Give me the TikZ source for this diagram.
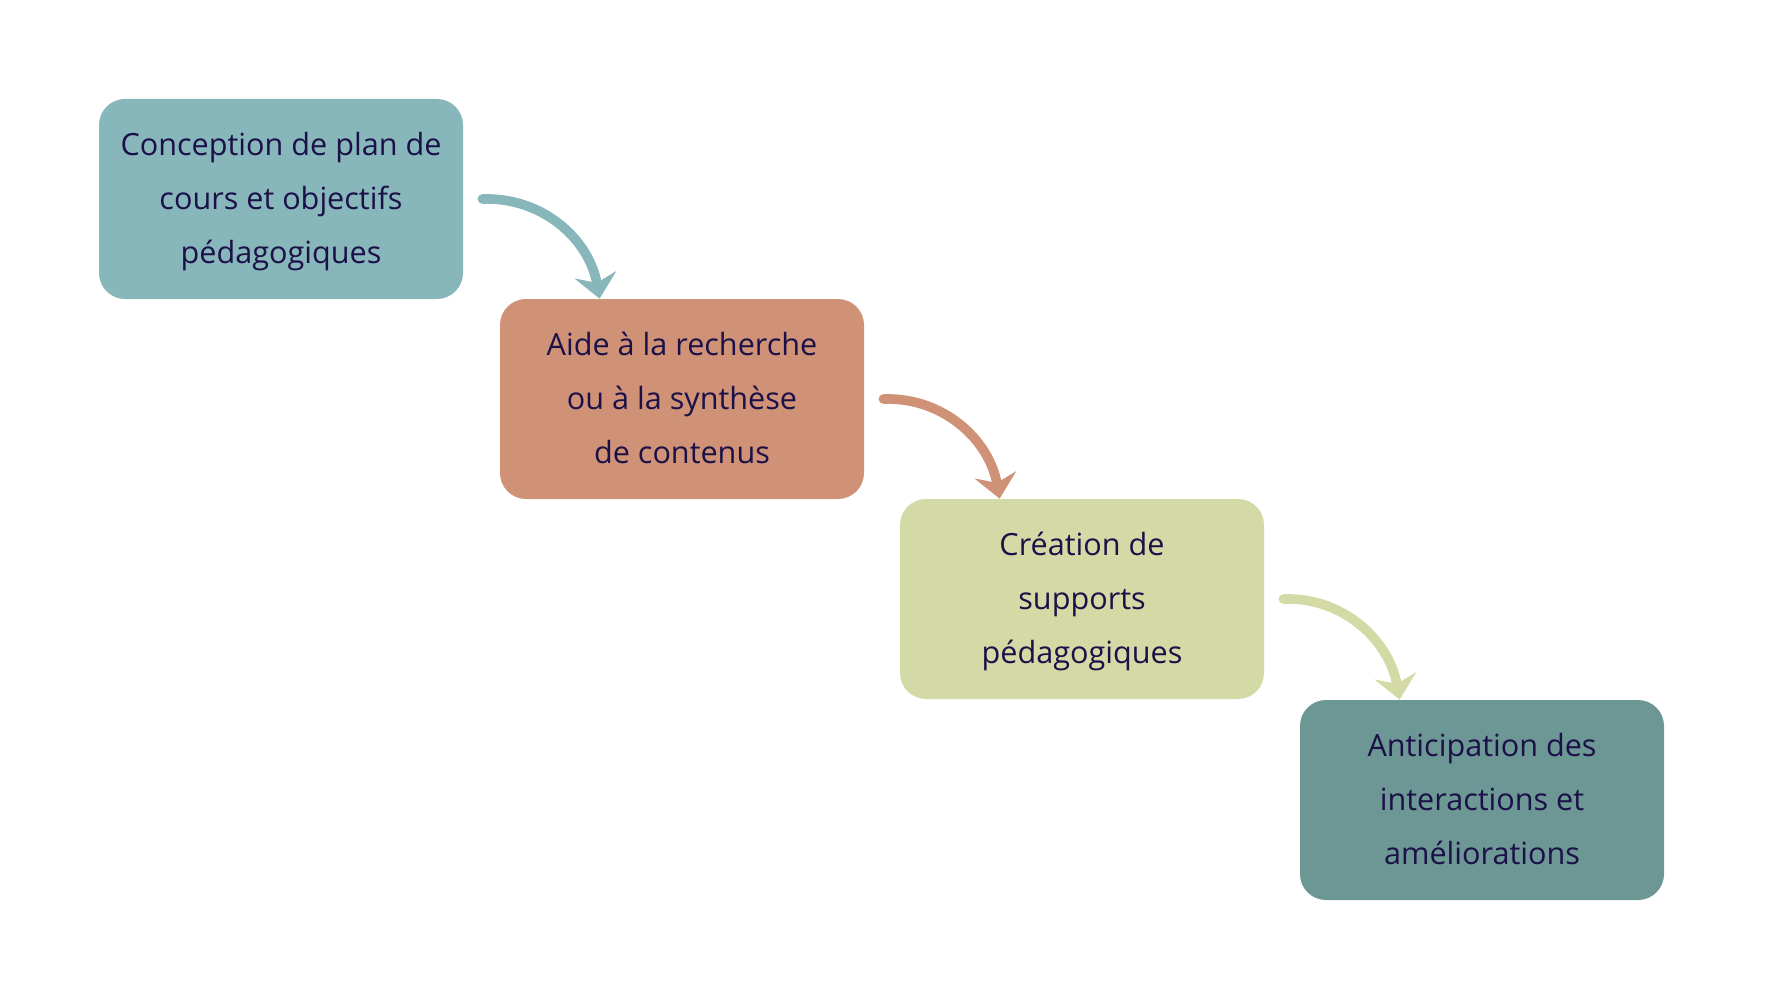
\documentclass[tikz,border=0pt]{standalone}
\usepackage{fontspec}
\setmainfont{Open Sans}
\usetikzlibrary{arrows.meta,calc}
\definecolor{cA}{HTML}{87B6BB}
\definecolor{cB}{HTML}{D09276}
\definecolor{cC}{HTML}{D4DAA6}
\definecolor{cD}{HTML}{6C9794}
\definecolor{txt}{HTML}{1B1048}
\newcommand{\boxtext}[1]{\raisebox{-4.3pt}{\setlength{\tabcolsep}{0pt}\begin{tabular}{c}#1\end{tabular}}}
\tikzset{
  stepbox/.style={fill=#1, rounded corners=13pt, minimum width=182pt, minimum height=100pt,
    text=txt, font=\fontsize{15.3}{27}\selectfont, inner sep=0pt},
  flow/.style={draw=#1, line width=4.8pt, line cap=round,
    -{Stealth[length=12pt,width=21pt,inset=4pt]}}
}
\begin{document}
\begin{tikzpicture}[x=0.5pt,y=-0.5pt]
\useasboundingbox (0,0) rectangle (1770,1000);
\node[stepbox=cA] (a) at (281,199) {\boxtext{Conception de plan de\\cours et objectifs\\pédagogiques}};
\node[stepbox=cB] (b) at (682,399) {\boxtext{Aide à la recherche\\ou à la synthèse\\de contenus}};
\node[stepbox=cC] (c) at (1082,599) {\boxtext{Création de\\supports\\pédagogiques}};
\node[stepbox=cD] (d) at (1482,800) {\boxtext{Anticipation des\\interactions et\\améliorations}};
\draw[flow=cA] ($(a.east)+(19,0)$) to[out=2,in=100] ($(b.north west)+(100,0)$);
\draw[flow=cB] ($(b.east)+(19,0)$) to[out=2,in=100] ($(c.north west)+(100,0)$);
\draw[flow=cC] ($(c.east)+(19,0)$) to[out=2,in=100] ($(d.north west)+(100,0)$);
\end{tikzpicture}
\end{document}
